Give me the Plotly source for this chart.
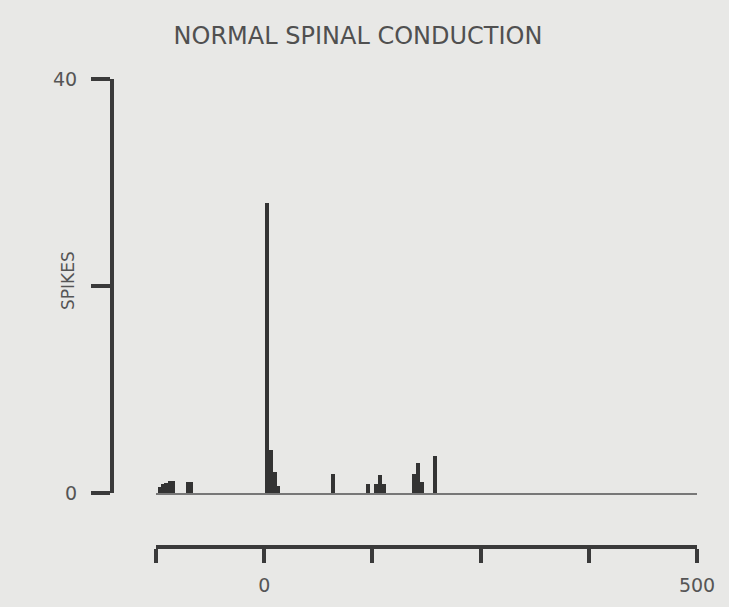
import plotly.graph_objects as go

# ---- data ----
bin_centers = [-121, -117, -113, -109, -105, -88, -84,
               3, 7.5, 12, 16.5,
               79.5, 119.5, 129, 133.5, 138,
               173, 177.5, 182, 197.5]
spike_counts = [0.6, 0.9, 1.0, 1.2, 1.2, 1.1, 1.1,
                28.0, 4.2, 2.0, 0.7,
                1.8, 0.9, 0.9, 1.7, 0.9,
                1.8, 2.9, 1.1, 3.6]
BIN_WIDTH = 4.5

x_tickvals = [-125, 0, 125, 250, 375, 500]
x_ticktext = ["", "0", "", "", "", "500"]
y_tickvals = [0, 20, 40]
y_ticktext = ["0", "", "40"]

TITLE = "NORMAL SPINAL CONDUCTION"
Y_TITLE = "SPIKES"

# ---- layout geometry ----
W, H = 729, 607
ml, mr, mt, mb = 112, 32, 79, 47
pw = W - ml - mr
ph = H - mt - mb
x_dom0 = (156 - ml) / pw
y_dom0 = (H - mb - 493) / ph
x2_pos = (H - mb - 547) / ph

ink = "#3a3a3a"
txt = "#555555"
bg = "#e8e8e6"
font = "DejaVu Sans"

fig = go.Figure()
fig.add_trace(go.Bar(
    x=bin_centers, y=spike_counts, width=BIN_WIDTH,
    marker=dict(color="#333333", line=dict(width=0)),
    xaxis="x", yaxis="y", hoverinfo="skip",
))
# invisible trace to host the separate time axis
fig.add_trace(go.Scatter(
    x=[x_tickvals[0], x_tickvals[-1]], y=[0, 0], mode="lines",
    line=dict(width=0), opacity=0, xaxis="x2", yaxis="y",
    hoverinfo="skip", showlegend=False,
))

fig.update_layout(
    width=W, height=H,
    margin=dict(l=ml, r=mr, t=mt, b=mb, pad=0),
    paper_bgcolor=bg, plot_bgcolor=bg,
    showlegend=False, bargap=0,
    font=dict(family=font, color=txt),
    title=dict(text=TITLE, x=358 / W, xanchor="center",
               y=1 - 36 / H, yanchor="middle",
               font=dict(family=font, size=24, color="#505050")),
    xaxis=dict(domain=[x_dom0, 1], range=[-125, 500], anchor="y",
               showline=True, linecolor="#777777", linewidth=2,
               showticklabels=False, ticks="", showgrid=False,
               zeroline=False, fixedrange=True),
    xaxis2=dict(domain=[x_dom0, 1], range=[-125, 500], anchor="free",
                overlaying="x", position=x2_pos, side="bottom",
                showline=True, linecolor=ink, linewidth=4,
                ticks="outside", ticklen=14, tickwidth=4, tickcolor=ink,
                tickvals=x_tickvals, ticktext=x_ticktext,
                ticklabelstandoff=6,
                tickfont=dict(family=font, size=19, color=txt),
                showgrid=False, zeroline=False),
    yaxis=dict(domain=[y_dom0, 1], range=[0, 40], anchor="free",
               position=0, showline=True, linecolor=ink, linewidth=4,
               ticks="outside", ticklen=19, tickwidth=4, tickcolor=ink,
               tickvals=y_tickvals, ticktext=y_ticktext,
               ticklabelstandoff=10,
               tickfont=dict(family=font, size=19, color=txt),
               showgrid=False, zeroline=False),
    annotations=[dict(text=Y_TITLE, textangle=-90, xref="paper", yref="paper",
                      x=(68 - ml) / pw, y=(H - mb - 281) / ph,
                      xanchor="center", yanchor="middle", showarrow=False,
                      font=dict(family=font, size=17, color=txt))],
)

fig.write_html("out.html")
